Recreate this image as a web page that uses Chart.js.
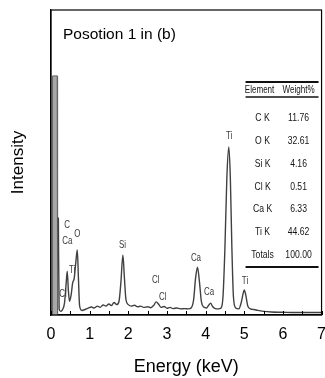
<!DOCTYPE html>
<html>
<head>
<meta charset="utf-8">
<script src="https://cdn.jsdelivr.net/npm/chart.js@4"></script>
<style>
  html, body { margin: 0; padding: 0; background: #fff; overflow: hidden; }
  canvas { display: block; }
</style>
</head>
<body>
<canvas id="chart" width="336" height="378"></canvas>
<script>
// spectrum (energy in keV, intensity in % of full scale)
const energyKeV = [0.19, 0.21, 0.25, 0.30, 0.35, 0.39, 0.42, 0.45, 0.48, 0.52, 0.56, 0.60, 0.64, 0.68, 0.71, 0.74, 0.80, 0.88, 0.95, 1.05,
  1.12, 1.20, 1.27, 1.35, 1.42, 1.50, 1.56, 1.63, 1.70, 1.76, 1.81, 1.86, 1.90, 1.94, 2.00, 2.08, 2.16, 2.24, 2.32, 2.40,
  2.50, 2.58, 2.66, 2.72, 2.78, 2.85, 2.93, 3.00, 3.08, 3.16, 3.25, 3.35, 3.45, 3.55, 3.63, 3.69, 3.74, 3.79, 3.84, 3.89,
  3.95, 4.02, 4.08, 4.13, 4.18, 4.25, 4.33, 4.40, 4.45, 4.50, 4.55, 4.60, 4.64, 4.68, 4.72, 4.78, 4.86, 4.92, 4.97, 5.00,
  5.04, 5.09, 5.16, 5.25, 5.35, 5.50, 5.70, 6.00, 6.30, 6.60, 7.00];
const intensity = [32, 2, 1.2, 1.8, 4, 10, 14.4, 8, 4.5, 6.5, 10.5, 12, 17, 21.3, 12, 3, 1.5, 1.8, 2.2, 2.6,
  2.3, 2.9, 2.5, 3.3, 2.9, 3.6, 3.1, 4.1, 3.4, 4.5, 11, 19.7, 12, 5, 3.4, 2.9, 3.2, 2.7, 2.9, 2.5,
  2.7, 2.4, 3.2, 4.3, 3.6, 2.5, 2.8, 2.2, 2.5, 2.1, 2.3, 2.0, 2.1, 2.0, 2.4, 5, 12, 15.7, 11, 4.5,
  2.6, 2.3, 3.2, 3.9, 2.8, 2.1, 2.0, 2.3, 6, 22, 45, 55.1, 45, 22, 6, 2.3, 2.0, 4, 7, 8.2,
  6.5, 3, 2.0, 1.8, 1.5, 1.2, 1.0, 0.9, 0.8, 0.8, 0.8];

// saturated zero-energy noise peak (grey block at the left edge)
const zeroPeakKeV = [0.03, 0.04, 0.16, 0.17];
const zeroPeakValue = [0, 78.4, 78.4, 0];

// peak labels: element, energy, height where the label sits
const peakNames = ["C", "O", "Ca", "Ti", "Cl", "Si", "Cl", "Cl", "Ca", "Ca", "Ti", "Ti"];
const peakKeV = [0.42, 0.68, 0.42, 0.55, 0.31, 1.85, 2.71, 2.89, 3.75, 4.09, 5.02, 4.61];
const peakAt = [29.5, 26.5, 24.3, 14.8, 6.9, 23, 11.5, 5.9, 18.7, 7.5, 11.1, 58.7];

// composition table
const tableElements = ["C K", "O K", "Si K", "Cl K", "Ca K", "Ti K", "Totals"];
const tableWeights = ["11.76", "32.61", "4.16", "0.51", "6.33", "44.62", "100.00"];

const xTicks = [0, 1, 2, 3, 4, 5, 6, 7];

const zip = (xs, ys) => xs.map((x, i) => ({ x: x, y: ys[i] }));

// condensed text, like the narrow face used in the figure
function narrowText(ctx, text, cx, cy, squeeze) {
  ctx.save();
  ctx.translate(cx, cy);
  ctx.scale(squeeze, 1);
  ctx.fillText(text, 0, 0);
  ctx.restore();
}

const extras = {
  id: "extras",
  afterDraw(chart) {
    const { ctx, chartArea: a, scales: { x, y } } = chart;
    ctx.save();

    // frame
    ctx.strokeStyle = "#000";
    ctx.lineWidth = 1.2;
    ctx.strokeRect(a.left, a.top, a.right - a.left, a.bottom - a.top);

    // inward ticks every 0.5 keV
    ctx.lineWidth = 1;
    x.ticks.forEach(t => {
      const px = Math.round(x.getPixelForValue(t.value)) + 0.5;
      ctx.beginPath();
      ctx.moveTo(px, a.bottom);
      ctx.lineTo(px, a.bottom - 4);
      ctx.stroke();
    });

    // title inside the frame
    ctx.fillStyle = "#000";
    ctx.font = '15.5px "Liberation Sans", Arial, sans-serif';
    ctx.textAlign = "left";
    ctx.textBaseline = "middle";
    ctx.fillText("Posotion 1 in (b)", a.left + 12, a.top + 25);

    // peak labels
    ctx.fillStyle = "#3a3a3a";
    ctx.font = '11px "Liberation Sans", sans-serif';
    ctx.textAlign = "center";
    peakNames.forEach((n, i) => {
      narrowText(ctx, n, x.getPixelForValue(peakKeV[i]), y.getPixelForValue(peakAt[i]), 0.72);
    });

    // composition table
    const l = a.right - 76, r = a.right - 3;
    const c1 = a.right - 62, c2 = a.right - 23;
    ctx.strokeStyle = "#111";
    ctx.lineWidth = 2;
    ctx.beginPath(); ctx.moveTo(l, a.top + 72); ctx.lineTo(r, a.top + 72); ctx.stroke();
    ctx.beginPath(); ctx.moveTo(l, a.top + 257); ctx.lineTo(r, a.top + 257); ctx.stroke();
    ctx.lineWidth = 1.3;
    ctx.beginPath(); ctx.moveTo(l, a.top + 87); ctx.lineTo(r, a.top + 87); ctx.stroke();
    ctx.fillStyle = "#151515";
    ctx.font = '11.5px "Liberation Sans", sans-serif';
    narrowText(ctx, "Element", c1, a.top + 80, 0.7);
    narrowText(ctx, "Weight%", c2, a.top + 80, 0.7);
    tableElements.forEach((el, i) => {
      const ty = a.top + 108 + i * 22.8;
      narrowText(ctx, el, c1 + 3, ty, 0.75);
      narrowText(ctx, tableWeights[i], c2, ty, 0.75);
    });
    ctx.restore();
  }
};

new Chart(document.getElementById("chart"), {
  type: "line",
  data: {
    datasets: [
      {
        label: "spectrum",
        data: zip(energyKeV, intensity),
        borderColor: "#404040",
        borderWidth: 1.4,
        pointRadius: 0,
        cubicInterpolationMode: "monotone",
        fill: false
      },
      {
        label: "zero peak",
        data: zip(zeroPeakKeV, zeroPeakValue),
        borderColor: "#666",
        backgroundColor: "#a8a8a8",
        borderWidth: 1,
        pointRadius: 0,
        fill: "origin"
      }
    ]
  },
  options: {
    responsive: false,
    animation: false,
    layout: { padding: { top: 10, left: 0, right: 0, bottom: 0 } },
    plugins: { legend: { display: false }, tooltip: { enabled: false } },
    scales: {
      x: {
        type: "linear",
        min: 0,
        max: 7,
        afterFit: s => { s.height = 63; },
        afterBuildTicks: s => {
          const t = [];
          for (let i = 0; i <= 14; i++) t.push({ value: i / 2 });
          s.ticks = t;
        },
        ticks: {
          autoSkip: false,
          maxRotation: 0,
          padding: 10,
          color: "#000",
          font: { family: '"Liberation Sans", Arial', size: 16 },
          callback: v => (xTicks.includes(v) ? String(v) : "")
        },
        grid: { display: false, drawTicks: false },
        border: { color: "#000", width: 1.2 },
        title: {
          display: true,
          text: "Energy (keV)",
          color: "#000",
          font: { family: '"Liberation Sans", Arial', size: 18 },
          padding: { top: 0, bottom: 0 }
        }
      },
      y: {
        min: 0,
        max: 100,
        afterFit: s => { s.width = 51; },
        ticks: { display: false },
        grid: { display: false, drawTicks: false },
        border: { color: "#000", width: 1.2 },
        title: {
          display: true,
          text: "Intensity",
          color: "#000",
          font: { family: '"Liberation Sans", Arial', size: 17 },
          padding: { top: 8, bottom: 0 }
        }
      }
    }
  },
  plugins: [extras]
});
</script>
</body>
</html>
